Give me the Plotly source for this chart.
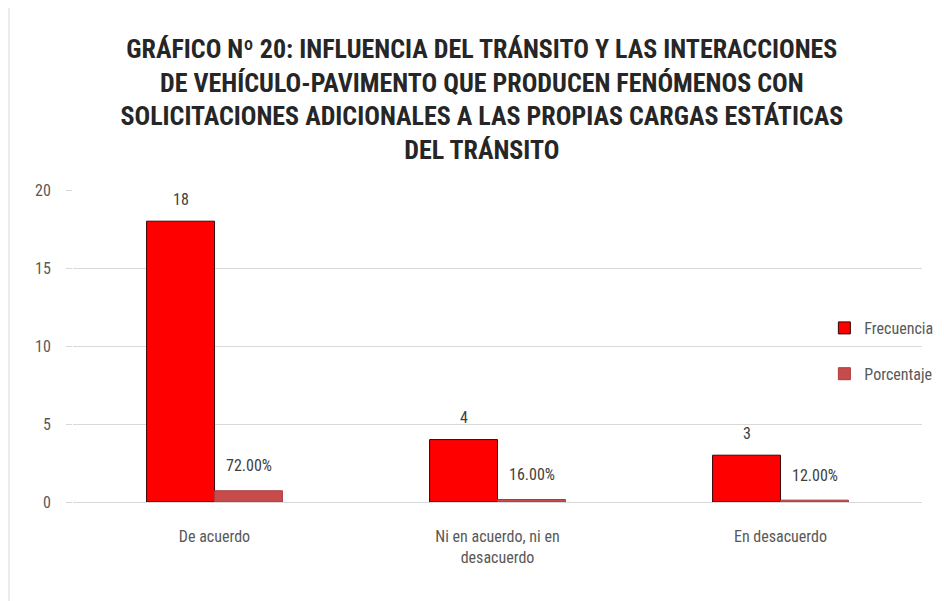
import plotly.graph_objects as go

categories = ["De acuerdo", "Ni en acuerdo, ni en<br>desacuerdo", "En desacuerdo"]
frecuencia = [18, 4, 3]
porcentaje = [0.72, 0.16, 0.12]
y_ticks = [0, 5, 10, 15, 20]

title = ("GRÁFICO Nº 20: INFLUENCIA DEL TRÁNSITO Y LAS INTERACCIONES<br>"
         "DE VEHÍCULO-PAVIMENTO QUE PRODUCEN FENÓMENOS CON<br>"
         "SOLICITACIONES ADICIONALES A LAS PROPIAS CARGAS ESTÁTICAS<br>"
         "DEL TRÁNSITO")

font_fam = "Liberation Sans Narrow, Roboto Condensed, Arial Narrow, sans-serif"

fig = go.Figure()
fig.add_trace(go.Bar(
    x=categories, y=frecuencia, name="Frecuencia",
    marker=dict(color="#FF0000", line=dict(color="#3a0000", width=1)),
    legendgroup="a",
))
fig.add_trace(go.Bar(
    x=categories, y=porcentaje, name="Porcentaje",
    marker=dict(color="#C84B4B", line=dict(color="#B03A3A", width=1)),
    legendgroup="b",
))

annotations = []
for c, v in zip(categories, frecuencia):
    annotations.append(dict(x=c, y=v, text=str(v), showarrow=False, xref="x", yref="y",
                            xshift=-34, yshift=22, font=dict(size=16, color="#404040", family=font_fam)))
for c, v in zip(categories, porcentaje):
    annotations.append(dict(x=c, y=v, text=f"{v*100:.2f}%", showarrow=False, xref="x", yref="y",
                            xshift=34, yshift=25, font=dict(size=16, color="#404040", family=font_fam)))

fig.update_layout(
    width=944, height=601,
    paper_bgcolor="white", plot_bgcolor="white",
    margin=dict(l=65, r=30, t=182, b=107),
    barmode="group", bargap=0.52, bargroupgap=0,
    title=dict(text=f"<b>{title}</b>", x=0.502, xanchor="center", y=0.917, yanchor="top",
               font=dict(size=26, color="#262626", family=font_fam)),
    font=dict(family=font_fam, color="#595959", size=16),
    legend=dict(x=0.885, y=0.484, xanchor="left", yanchor="middle",
                font=dict(size=16, color="#595959", family=font_fam),
                tracegroupgap=22, bgcolor="rgba(0,0,0,0)", itemwidth=30),
    annotations=annotations,
    showlegend=True,
)
fig.update_yaxes(range=[0, 20], tickvals=y_ticks, showgrid=True, gridcolor="#D9D9D9",
                 zeroline=False, ticks="outside", ticklen=6, tickcolor="#D9D9D9",
                 ticklabelstandoff=12, tickfont=dict(size=16, color="#595959"))
fig.update_xaxes(showline=True, linecolor="#D9D9D9", linewidth=1, ticklabelstandoff=20,
                 tickfont=dict(size=16, color="#595959"))
fig.add_shape(type="line", xref="paper", yref="paper", x0=-0.0754, x1=-0.0754, y0=-0.4, y1=1.7,
              line=dict(color="#D9D9D9", width=1))

fig.write_html("out.html")
